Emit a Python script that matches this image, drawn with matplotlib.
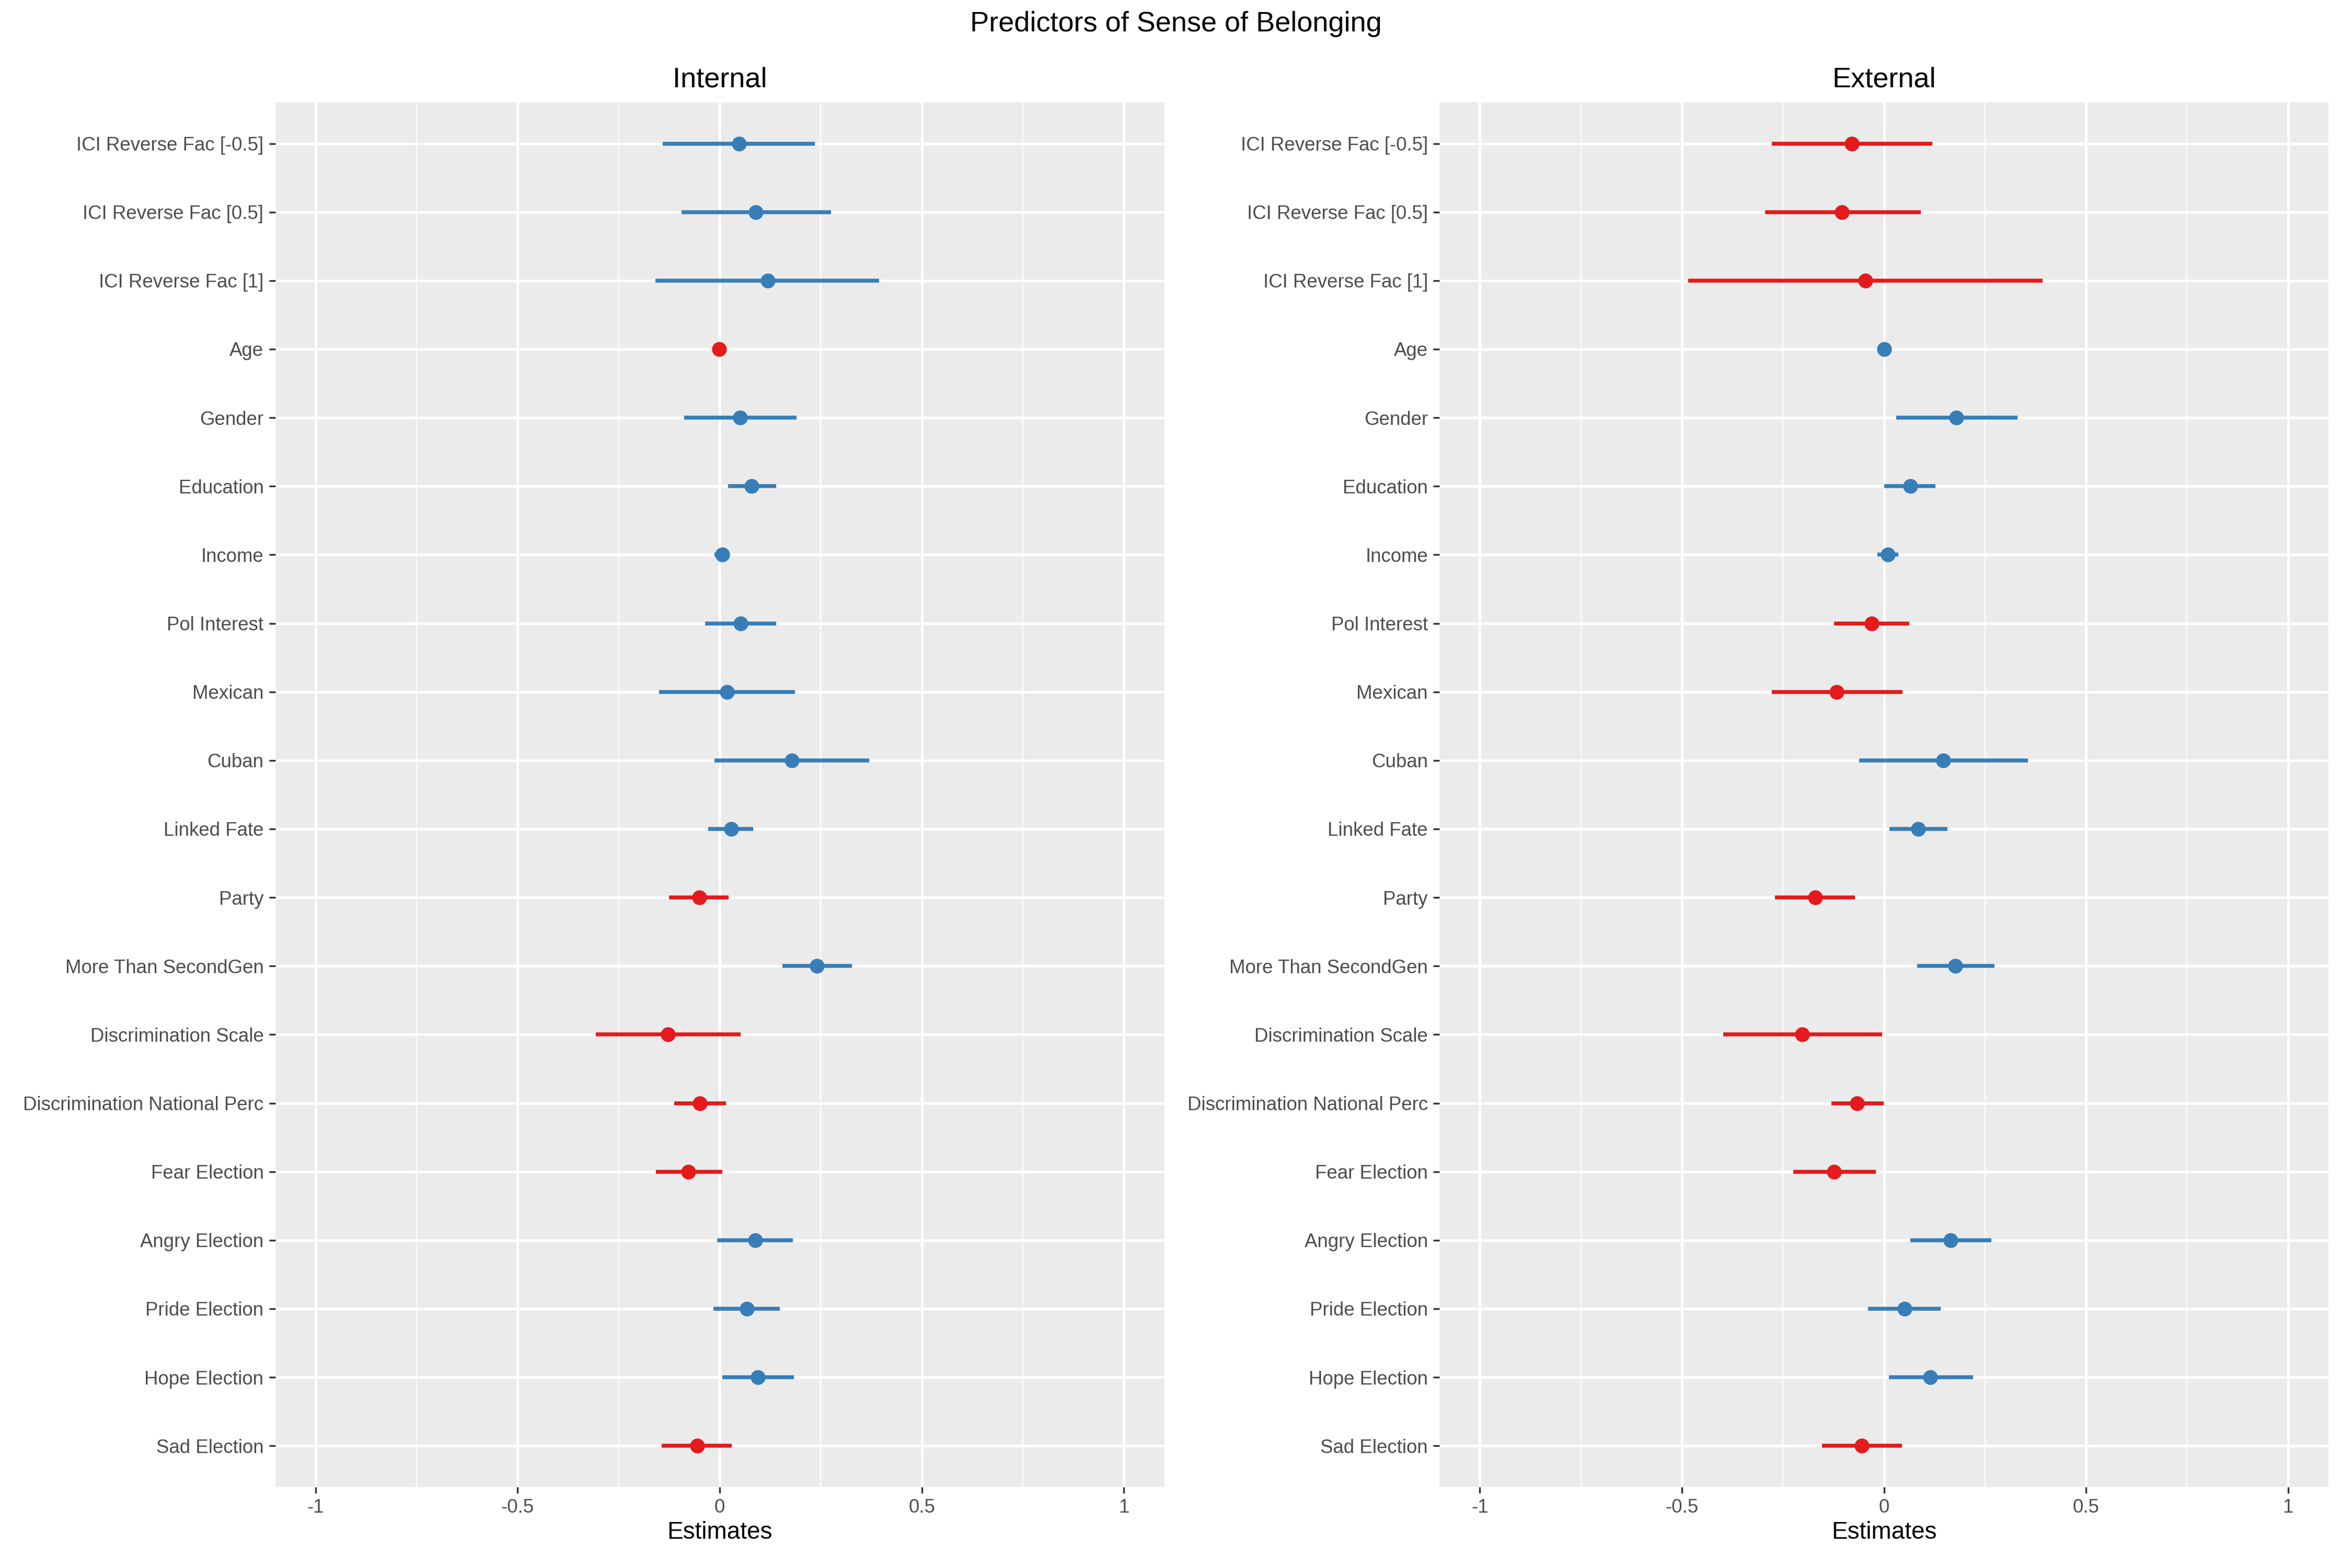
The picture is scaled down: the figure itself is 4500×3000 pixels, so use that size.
import matplotlib
matplotlib.use("Agg")
import matplotlib.pyplot as plt

plt.rcParams["font.family"] = ["Liberation Sans", "DejaVu Sans"]

# ── Data ────────────────────────────────────────────────────────────────────
terms = [
    "ICI Reverse Fac [-0.5]", "ICI Reverse Fac [0.5]", "ICI Reverse Fac [1]",
    "Age", "Gender", "Education", "Income", "Pol Interest", "Mexican", "Cuban",
    "Linked Fate", "Party", "More Than SecondGen", "Discrimination Scale",
    "Discrimination National Perc", "Fear Election", "Angry Election",
    "Pride Election", "Hope Election", "Sad Election",
]

internal_est = [0.048, 0.089, 0.119, -0.001, 0.050, 0.079, 0.006, 0.052, 0.018, 0.178,
                0.028, -0.051, 0.241, -0.128, -0.049, -0.077, 0.088, 0.067, 0.095, -0.056]
internal_lo = [-0.141, -0.094, -0.159, -0.004, -0.088, 0.021, -0.013, -0.036, -0.150, -0.013,
               -0.028, -0.125, 0.155, -0.306, -0.113, -0.158, -0.006, -0.015, 0.006, -0.143]
internal_hi = [0.235, 0.275, 0.395, 0.002, 0.190, 0.140, 0.022, 0.140, 0.186, 0.370,
               0.083, 0.022, 0.327, 0.052, 0.015, 0.006, 0.181, 0.149, 0.184, 0.030]

external_est = [-0.079, -0.104, -0.046, 0.001, 0.179, 0.065, 0.010, -0.030, -0.117, 0.147,
                0.085, -0.170, 0.177, -0.202, -0.066, -0.123, 0.165, 0.051, 0.115, -0.055]
external_lo = [-0.277, -0.294, -0.485, -0.002, 0.030, 0.001, -0.016, -0.124, -0.277, -0.062,
               0.014, -0.270, 0.082, -0.398, -0.130, -0.225, 0.065, -0.039, 0.012, -0.153]
external_hi = [0.120, 0.091, 0.392, 0.004, 0.330, 0.128, 0.036, 0.063, 0.046, 0.356,
               0.157, -0.072, 0.274, -0.004, -0.001, -0.020, 0.266, 0.140, 0.221, 0.045]

x_ticks = [-1, -0.5, 0, 0.5, 1]
x_ticklabels = ["-1", "-0.5", "0", "0.5", "1"]
x_minor = [-0.75, -0.25, 0.25, 0.75]

# ── Style ───────────────────────────────────────────────────────────────────
C_POS = "#377EB8"
C_NEG = "#E41A1C"
C_PANEL = "#EBEBEB"
C_TICK = "#4D4D4D"


def draw_panel(ax, title, est, lo, hi):
    ax.set_facecolor(C_PANEL)
    n = len(terms)
    ypos = list(range(n))
    ax.set_xlim(-1.1, 1.1)
    ax.set_ylim(n - 1 + 0.6, -0.6)

    for x in x_minor:
        ax.axvline(x, color="white", linewidth=0.55, zorder=0)
    for x in x_ticks:
        ax.axvline(x, color="white", linewidth=1.2, zorder=0)
    for y in ypos:
        ax.axhline(y, color="white", linewidth=1.2, zorder=0)

    for y, e, l, h in zip(ypos, est, lo, hi):
        col = C_NEG if e < 0 else C_POS
        ax.plot([l, h], [y, y], color=col, linewidth=1.8, solid_capstyle="butt", zorder=2)
        ax.plot(e, y, "o", color=col, markersize=6.8, markeredgewidth=0, zorder=3)

    ax.set_xticks(x_ticks)
    ax.set_xticklabels(x_ticklabels)
    ax.set_yticks(ypos)
    ax.set_yticklabels(terms)
    ax.tick_params(axis="both", colors="#333333", labelcolor=C_TICK, labelsize=8.8,
                   length=2.8, width=0.8, pad=2.5)
    for spine in ax.spines.values():
        spine.set_visible(False)
    ax.set_xlabel("Estimates", fontsize=11, labelpad=2)
    ax.set_title(title, fontsize=13, pad=7)


fig = plt.figure(figsize=(15, 10), dpi=300)
ax_int = fig.add_axes([0.117, 0.0517, 0.378, 0.883])
ax_ext = fig.add_axes([0.612, 0.0517, 0.378, 0.883])

draw_panel(ax_int, "Internal", internal_est, internal_lo, internal_hi)
draw_panel(ax_ext, "External", external_est, external_lo, external_hi)

fig.suptitle("Predictors of Sense of Belonging", fontsize=13, y=0.993, va="top")

fig.savefig("out.png", dpi=300)
